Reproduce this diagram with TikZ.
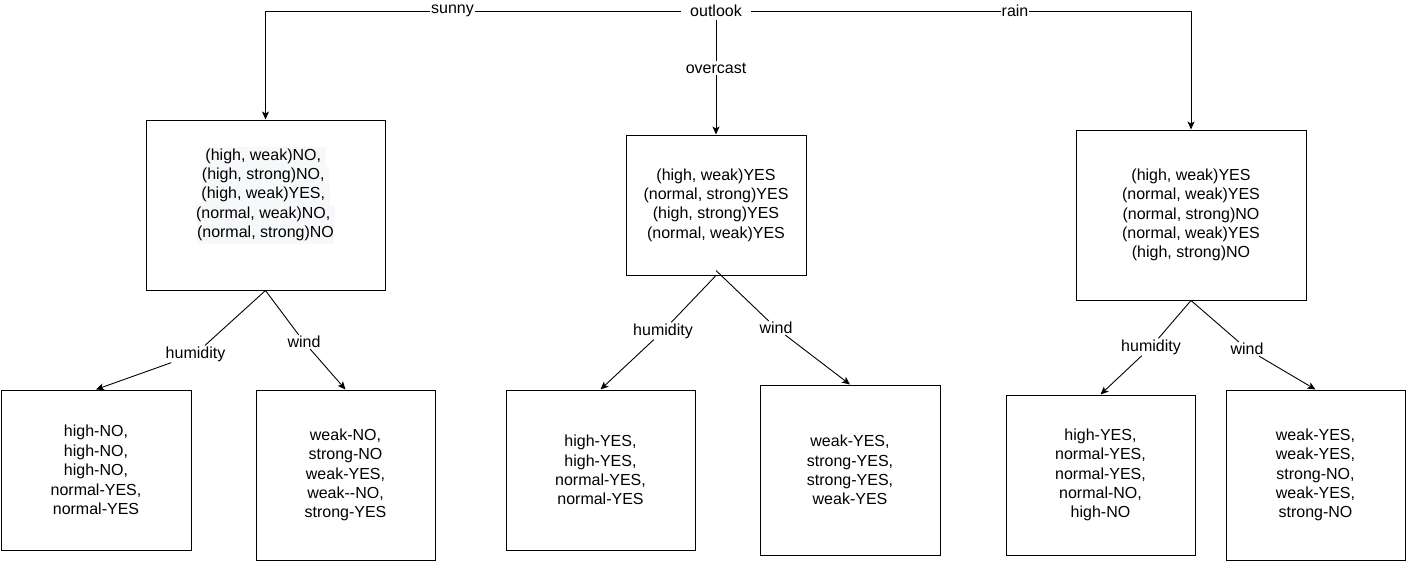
\documentclass[tikz,border=0pt]{standalone}
\usepackage{fontspec}
\setmainfont{Liberation Sans}
\usetikzlibrary{arrows.meta}
\definecolor{hlbg}{HTML}{F6F8FA}
\newcommand{\hlline}[1]{{\setlength{\fboxsep}{0pt}\colorbox{hlbg}{\strut #1}}}
\begin{document}
\begin{tikzpicture}[x=1pt,y=-1pt,
  every node/.style={font=\fontsize{16}{19.4}\selectfont},
  box/.style={draw, line width=1pt, rectangle, inner sep=0pt, align=center},
  lbl/.style={inner xsep=1pt, inner ysep=2pt, fill=white},
  elbl/.style={inner sep=1pt},
  arr/.style={line width=0.9pt, -{Stealth[length=8pt,width=7pt,inset=2pt]}}]
\useasboundingbox (0,0) rectangle (1406,562);

% top level
\node[inner xsep=9pt, inner ysep=3pt] (outlook) at (716,11) {outlook};

\node[box, minimum width=239pt, minimum height=170pt] (s) at (265.5,205) {};
\node[align=center, inner sep=0pt] (st) at (265.5,195) {%
\hlline{(high, weak)NO,\ }\\
\hlline{(high, strong)NO,\ }\\
\hlline{(high, weak)YES,\ }\\
\hlline{(normal, weak)NO,\ }\\
\hlline{(normal, strong)NO}};

\node[box, minimum width=180pt, minimum height=140pt] (o) at (716,205) {%
(high, weak)YES\\
(normal, strong)YES\\
(high, strong)YES\\
(normal, weak)YES};

\node[box, minimum width=230pt, minimum height=170pt] (r) at (1191,215) {%
(high, weak)YES\\
(normal, weak)YES\\
(normal, strong)NO\\
(normal, weak)YES\\
(high, strong)NO};

% leaves
\node[box, minimum width=190pt, minimum height=160pt] (s1) at (96,470) {%
high-NO,\\ high-NO,\\ high-NO,\\ normal-YES,\\ normal-YES};
\node[box, minimum width=179pt, minimum height=170pt] (s2) at (345.5,475) {%
weak-NO,\\ strong-NO\\ weak-YES,\\ weak-{}-NO,\\ strong-YES};
\node[box, minimum width=189pt, minimum height=160pt] (o1) at (600.5,470) {%
high-YES,\\ high-YES,\\ normal-YES,\\ normal-YES};
\node[box, minimum width=180pt, minimum height=170pt] (o2) at (850,470) {%
weak-YES,\\ strong-YES,\\ strong-YES,\\ weak-YES};
\node[box, minimum width=189pt, minimum height=160pt] (r1) at (1100.5,475) {%
high-YES,\\ normal-YES,\\ normal-YES,\\ normal-NO,\\ high-NO};
\node[box, minimum width=179pt, minimum height=170pt] (r2) at (1315.5,475) {%
weak-YES,\\ weak-YES,\\ strong-NO,\\ weak-YES,\\ strong-NO};

% top connectors
\draw[arr] (outlook) -| (s) node[lbl, pos=0.275] {sunny};
\draw[arr] (outlook) -- (o) node[lbl, pos=0.42] {overcast};
\draw[arr] (outlook) -| (r) node[lbl, pos=0.3] {rain};

% branch labels
\node[elbl] (h1) at (195.5,354) {humidity};
\node[elbl] (w1) at (304,342) {wind};
\node[elbl] (h2) at (663,331) {humidity};
\node[elbl] (w2) at (776,328) {wind};
\node[elbl] (h3) at (1151,347) {humidity};
\node[elbl] (w3) at (1247,349) {wind};

% branch connectors
\draw[arr] (s.south) -- (h1) -- (s1.north);
\draw[arr] (s.south) -- (w1) -- (s2.north);
\draw[arr] (o.south) -- (h2) -- (o1.north);
\draw[arr] ([yshift=5pt]o.south) -- (w2) -- (o2.north);
\draw[arr] (r.south) -- (h3) -- (r1.north);
\draw[arr] (r.south) -- (w3) -- (r2.north);
\end{tikzpicture}
\end{document}
